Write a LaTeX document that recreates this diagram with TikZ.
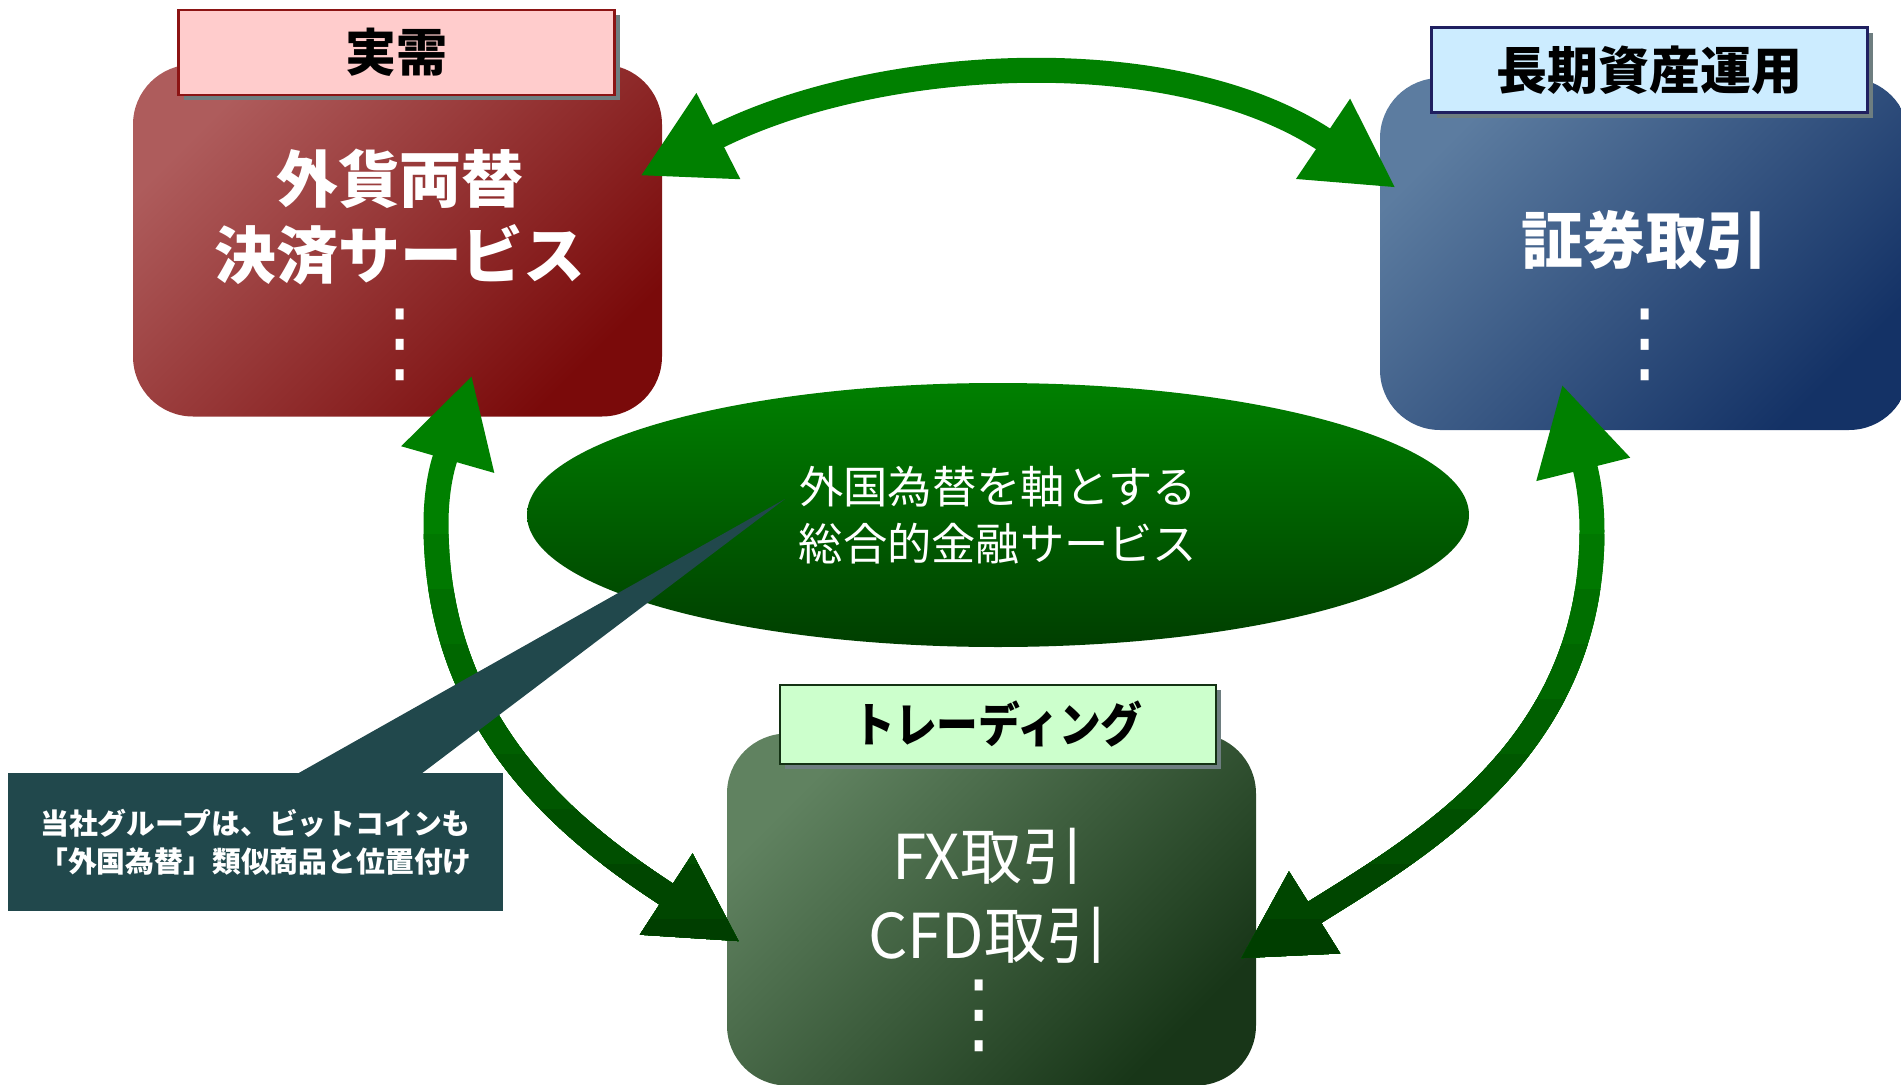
\documentclass[tikz,border=0pt]{standalone}
\usepackage{fontspec}
\setmainfont{Noto Sans CJK JP}
\newfontfamily\symfont{DejaVu Sans}
\usepackage{tikz}
\usetikzlibrary{shapes.geometric,arrows.meta,shadows}

\definecolor{realred}{RGB}{174,92,92}
\definecolor{realdark}{RGB}{122,10,10}
\definecolor{longblue}{RGB}{92,124,160}
\definecolor{longdark}{RGB}{20,50,102}
\definecolor{tradegreen}{RGB}{96,130,96}
\definecolor{tradedark}{RGB}{24,54,24}
\definecolor{tagpink}{RGB}{255,204,204}
\definecolor{tagblue}{RGB}{204,236,255}
\definecolor{taggreen}{RGB}{204,255,204}
\definecolor{tagred}{RGB}{140,20,20}
\definecolor{tagnavy}{RGB}{32,32,96}
\definecolor{tagdkgreen}{RGB}{20,50,20}
\definecolor{tagshadow}{RGB}{110,126,128}
\definecolor{arcgreen}{RGB}{0,128,0}
\definecolor{arcdark}{RGB}{0,62,0}
\definecolor{notefill}{RGB}{33,72,76}

\newcommand\boxsize{\fontsize{17.6}{21.6}\selectfont}
\newcommand\westarc{(w1) to[out=254,in=90] (w2) to[out=270,in=147] (w3)}
\newcommand\eastarc{(e1) to[out=284,in=90] (e2) to[out=270,in=32] (e3)}

\tikzset{
  bizbox/.style 2 args={rounded corners=0.6cm, minimum width=5.29cm, minimum height=3.52cm,
    inner sep=0pt, top color=#1, bottom color=#2, shading angle=45},
  tag/.style={line width=0.8pt, minimum width=4.36cm, minimum height=0.85cm, inner sep=0pt,
    font=\bfseries\fontsize{14.5}{17}\selectfont,
    drop shadow={shadow xshift=0.05cm, shadow yshift=-0.05cm, fill=tagshadow, opacity=1}},
  boxtext/.style={text=white, align=center, font=\boxsize},
  dots/.style={text=white, inner sep=0pt, font=\symfont\fontsize{22}{24}\selectfont},
  loopline/.style={line width=0.25cm,
    {Triangle[length=0.88cm,width=0.9cm]}-{Triangle[length=0.88cm,width=0.9cm]}},
  note/.style={fill=notefill, text=white, align=center, minimum width=4.95cm,
    minimum height=1.38cm, font=\bfseries\fontsize{8.2}{10.8}\selectfont}
}

\begin{document}
\begin{tikzpicture}
  \useasboundingbox (0,0) rectangle (19.01,10.84);
  \clip (0,0) rectangle (19.01,10.84);

  % business boxes
  \node[bizbox={realred}{realdark}] (real) at (3.975,8.435) {};
  \node[bizbox={longblue}{longdark}] (long) at (16.445,8.30) {};
  \node[bizbox={tradegreen}{tradedark}] (trade) at (9.915,1.745) {};

  % headings
  \node[tag, draw=tagred, fill=tagpink] (realtag) at (3.965,10.315) {実需};
  \node[tag, draw=tagnavy, fill=tagblue] (longtag) at (16.495,10.14) {長期資産運用};
  \node[tag, draw=tagdkgreen, fill=taggreen, minimum height=0.79cm,
    font=\bfseries\fontsize{13.5}{16}\selectfont] (tradetag) at (9.98,3.595)
    {\scalebox{0.88}[1]{トレーディング}};

  % box contents
  \node[boxtext, font=\bfseries\boxsize] (realtxt) at (4.00,8.67) {外貨両替\\決済サービス};
  \node[dots] (realdots) at (4.00,7.39) {\scalebox{1}[1.15]{⋮}};
  \node[boxtext, font=\bfseries\boxsize] (longtxt) at (16.45,8.44) {証券取引};
  \node[dots] (longdots) at (16.45,7.39) {\scalebox{1}[1.15]{⋮}};
  \node[boxtext, font=\fontsize{17.6}{22.5}\selectfont] (tradetxt) at (9.88,1.88) {FX取引\\CFD取引};
  \node[dots] (tradedots) at (9.79,0.68) {\scalebox{1}[1.15]{⋮}};

  % centre
  \node[ellipse, minimum width=9.42cm, minimum height=2.64cm, inner sep=0pt,
    top color=arcgreen, middle color=arcgreen, bottom color=arcdark,
    text=white, align=center, font=\fontsize{12.6}{16.2}\selectfont] (core) at (9.98,5.69)
    {外国為替を軸とする\\総合的金融サービス};

  % arcs
  \coordinate (t1) at (6.40,9.08);
  \coordinate (t2) at (13.96,8.96);
  \coordinate (w1) at (4.72,7.09);
  \coordinate (w2) at (4.36,5.60);
  \coordinate (w3) at (7.40,1.42);
  \coordinate (e1) at (15.62,7.00);
  \coordinate (e2) at (15.92,5.53);
  \coordinate (e3) at (12.40,1.25);
  \draw[loopline, arcgreen] (t1) to[out=27,in=146,looseness=0.9] (t2);
  \draw[loopline, arcgreen] \westarc;
  \draw[loopline, arcgreen] \eastarc;
  \foreach \i in {1,...,8}{
    \pgfmathsetmacro\mixpct{100-12.5*\i}
    \begin{scope}
      \clip (0,{6.05-0.55*\i}) rectangle (19.01,0);
      \draw[loopline, arcgreen!\mixpct!arcdark] \westarc;
      \draw[loopline, arcgreen!\mixpct!arcdark] \eastarc;
    \end{scope}
  }

  % callout
  \node[note] (note) at (2.555,2.42) {当社グループは、ビットコインも\\「外国為替」類似商品と位置付け};
  \coordinate (p1) at (2.97,3.10);
  \coordinate (p2) at (4.21,3.10);
  \coordinate (ptip) at (7.85,5.85);
  \fill[notefill] (p1) -- (ptip) -- (p2) -- cycle;
\end{tikzpicture}
\end{document}
